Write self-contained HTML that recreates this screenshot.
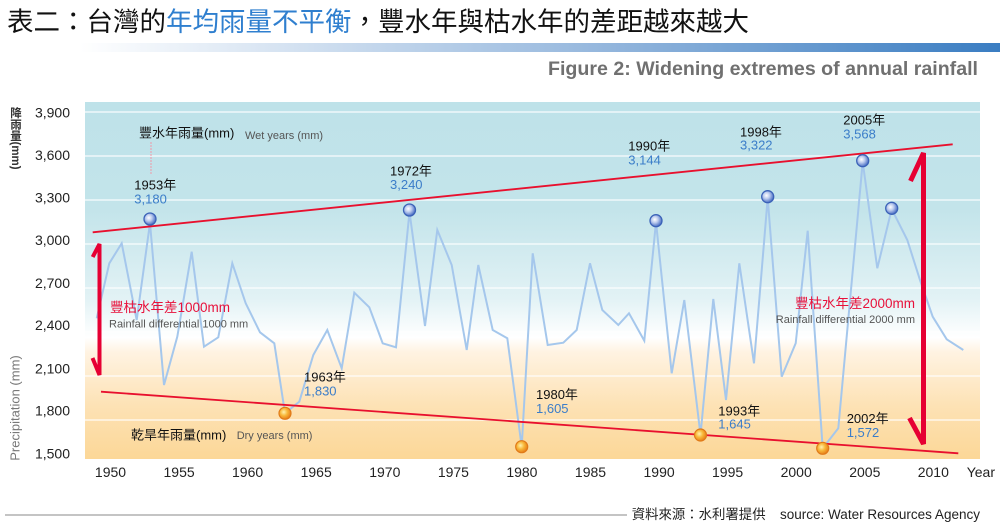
<!DOCTYPE html>
<html>
<head>
<meta charset="utf-8">
<style>
html,body{margin:0;padding:0;background:#fff;}
#wrap{position:relative;width:1000px;height:526px;overflow:hidden;background:#fff;}
svg{position:absolute;left:0;top:0;}
.vlab{position:absolute;left:9px;top:107px;writing-mode:vertical-rl;font-family:"Liberation Sans","Noto Sans CJK TC",sans-serif;font-size:11.5px;line-height:12px;color:#333;font-weight:bold;}
</style>
</head>
<body>
<div id="wrap">
<svg width="1000" height="526" viewBox="0 0 1000 526" xmlns="http://www.w3.org/2000/svg">
  <defs>
    <linearGradient id="bar" x1="0" y1="0" x2="1" y2="0">
      <stop offset="0" stop-color="#ffffff"/>
      <stop offset="0.08" stop-color="#ffffff"/>
      <stop offset="0.6" stop-color="#95b7dd"/>
      <stop offset="1" stop-color="#3a7dc2"/>
    </linearGradient>
    <linearGradient id="bg" x1="0" y1="0" x2="0" y2="1">
      <stop offset="0" stop-color="#bee2e9"/>
      <stop offset="0.30" stop-color="#c3e4ea"/>
      <stop offset="0.55" stop-color="#e2f2f5"/>
      <stop offset="0.66" stop-color="#ffffff"/>
      <stop offset="0.70" stop-color="#fff3e2"/>
      <stop offset="0.85" stop-color="#fde2b5"/>
      <stop offset="1" stop-color="#fcd797"/>
    </linearGradient>
    <radialGradient id="bball" cx="0.4" cy="0.4" r="0.6">
      <stop offset="0" stop-color="#ffffff"/>
      <stop offset="0.45" stop-color="#bccbee"/>
      <stop offset="1" stop-color="#4a6fc4"/>
    </radialGradient>
    <radialGradient id="oball" cx="0.4" cy="0.4" r="0.6">
      <stop offset="0" stop-color="#fff2b0"/>
      <stop offset="0.5" stop-color="#f8b83a"/>
      <stop offset="1" stop-color="#e8801a"/>
    </radialGradient>
  </defs>

  <!-- Title -->
  <text x="7" y="31" font-family="'Noto Sans CJK TC','Noto Sans CJK SC',sans-serif" font-size="26.5" font-weight="normal" fill="#111">表二：台灣的<tspan fill="#2f7fcf">年均雨量不平衡</tspan>，豐水年與枯水年的差距越來越大</text>

  <!-- gradient bar -->
  <rect x="0" y="43" width="1000" height="9" fill="url(#bar)"/>

  <!-- subtitle -->
  <text x="978" y="75" text-anchor="end" font-family="'Liberation Sans',sans-serif" font-weight="bold" font-size="19" fill="#707070" textLength="430" lengthAdjust="spacingAndGlyphs">Figure 2: Widening extremes of annual rainfall</text>

  <!-- plot background -->
  <rect x="85" y="102" width="895" height="357" fill="url(#bg)"/>
  <g stroke="#ffffff" stroke-opacity="0.75" stroke-width="1.5">
    <line x1="85" y1="112" x2="980" y2="112"/>
    <line x1="85" y1="156" x2="980" y2="156"/>
    <line x1="85" y1="200" x2="980" y2="200"/>
    <line x1="85" y1="244" x2="980" y2="244"/>
    <line x1="85" y1="288" x2="980" y2="288"/>
    <line x1="85" y1="332" x2="980" y2="332"/>
    <line x1="85" y1="376" x2="980" y2="376"/>
    <line x1="85" y1="420" x2="980" y2="420"/>
  </g>

  <!-- data line -->
  <polyline fill="none" stroke="#a5c7ec" stroke-width="2" stroke-linejoin="miter" points="96.7,318.3 109.3,263.3 121.7,243.3 136.7,320 150,223 164,385 177.3,336.7 191.7,251.7 204,346.7 218.3,337.3 232.3,263.3 245.7,303.3 260,332.3 274.3,343.3 285,413.3 299.3,401.7 313.3,355 327.3,330 341.7,368.3 354.3,292.7 369.3,307.3 382.7,343.3 396,347.3 409.5,212 425,326 437.3,230 451.7,265 466.7,350 478.3,265 492.7,330 507.3,338.3 521.7,446.7 532.7,253.3 547.7,345 563.3,342.7 576.7,330 590,263.3 602.3,310 618.3,325 629,313.3 644.3,340.7 656,222 671.7,373.3 684.3,300 700.5,435 713.3,299 726,400 739.3,263.3 754,363.3 767.7,198 781.7,376.7 795.7,343.3 807.7,230.7 822.7,448.3 838.3,428.3 862.7,162 877.3,268.3 891.7,209 907.3,240 920,280 932.7,316.7 946.7,339.3 963.3,350"/>

  <!-- trend lines -->
  <line x1="92.7" y1="232.3" x2="952.7" y2="144.3" stroke="#e8102e" stroke-width="1.8"/>
  <line x1="101" y1="391.7" x2="958.3" y2="453.3" stroke="#e8102e" stroke-width="1.8"/>

  <!-- arrows -->
  <path d="M92.7,257 L99.5,244 L99.5,375 L92.5,358" fill="none" stroke="#e60033" stroke-width="4" stroke-linejoin="miter"/>
  <path d="M910.5,181 L923.5,153 L923.5,444 L909.5,418" fill="none" stroke="#e60033" stroke-width="5" stroke-linejoin="miter"/>

  <!-- pink dotted -->
  <line x1="151" y1="142" x2="151" y2="175" stroke="#f09aa8" stroke-width="1" stroke-dasharray="2 1"/>

  <!-- markers -->
  <g stroke="#3b62b8" stroke-width="1.3" fill="url(#bball)">
    <circle cx="150" cy="219" r="6"/>
    <circle cx="409.5" cy="210" r="6"/>
    <circle cx="656" cy="220.7" r="6"/>
    <circle cx="767.7" cy="196.7" r="6"/>
    <circle cx="862.7" cy="160.7" r="6"/>
    <circle cx="891.7" cy="208.3" r="6"/>
  </g>
  <g stroke="#e07a18" stroke-width="1.2" fill="url(#oball)">
    <circle cx="285" cy="413.3" r="6"/>
    <circle cx="521.7" cy="446.7" r="6"/>
    <circle cx="700.5" cy="435" r="6"/>
    <circle cx="822.7" cy="448.3" r="6"/>
  </g>

  <!-- annotations -->
  <g font-family="'Liberation Sans','Noto Sans CJK TC',sans-serif" font-size="13">
    <text x="139" y="137.7" fill="#111">豐水年雨量(mm)</text>
    <text x="245" y="139" fill="#555" font-size="11">Wet years (mm)</text>
    <text x="131" y="439.7" fill="#111">乾旱年雨量(mm)</text>
    <text x="236.7" y="439" fill="#555" font-size="11">Dry years (mm)</text>

    <text x="134.3" y="189.7" fill="#111">1953年</text>
    <text x="134.3" y="203.7" fill="#3b7dc9">3,180</text>
    <text x="390" y="175.4" fill="#111">1972年</text>
    <text x="390" y="189" fill="#3b7dc9">3,240</text>
    <text x="628.3" y="150.7" fill="#111">1990年</text>
    <text x="628.3" y="164.7" fill="#3b7dc9">3,144</text>
    <text x="740" y="136.4" fill="#111">1998年</text>
    <text x="740" y="149.7" fill="#3b7dc9">3,322</text>
    <text x="843.3" y="124.7" fill="#111">2005年</text>
    <text x="843.3" y="138.7" fill="#3b7dc9">3,568</text>

    <text x="304" y="381.4" fill="#111">1963年</text>
    <text x="304" y="395.7" fill="#3b7dc9">1,830</text>
    <text x="536" y="399" fill="#111">1980年</text>
    <text x="536" y="413" fill="#3b7dc9">1,605</text>
    <text x="718.3" y="415.4" fill="#111">1993年</text>
    <text x="718.3" y="428.7" fill="#3b7dc9">1,645</text>
    <text x="846.7" y="423" fill="#111">2002年</text>
    <text x="846.7" y="437" fill="#3b7dc9">1,572</text>

    <text x="110" y="312" fill="#e8103a" font-size="13.5">豐枯水年差1000mm</text>
    <text x="109" y="327.3" fill="#555" font-size="11">Rainfall differential 1000 mm</text>
    <text x="915" y="308" fill="#e8103a" font-size="13.5" text-anchor="end">豐枯水年差2000mm</text>
    <text x="915" y="323" fill="#555" font-size="11" text-anchor="end">Rainfall differential 2000 mm</text>
  </g>

  <!-- y axis labels -->
  <g font-family="'Liberation Sans',sans-serif" font-size="14" fill="#222" text-anchor="end">
    <text x="70" y="117.3">3,900</text>
    <text x="70" y="160">3,600</text>
    <text x="70" y="202.7">3,300</text>
    <text x="70" y="245">3,000</text>
    <text x="70" y="288">2,700</text>
    <text x="70" y="330">2,400</text>
    <text x="70" y="373.3">2,100</text>
    <text x="70" y="415.7">1,800</text>
    <text x="70" y="458.3">1,500</text>
  </g>

  <!-- x axis labels -->
  <g font-family="'Liberation Sans',sans-serif" font-size="14" fill="#222" text-anchor="middle">
    <text x="110.5" y="477">1950</text>
    <text x="179.1" y="477">1955</text>
    <text x="247.6" y="477">1960</text>
    <text x="316.2" y="477">1965</text>
    <text x="384.8" y="477">1970</text>
    <text x="453.4" y="477">1975</text>
    <text x="521.9" y="477">1980</text>
    <text x="590.5" y="477">1985</text>
    <text x="659.1" y="477">1990</text>
    <text x="727.6" y="477">1995</text>
    <text x="796.2" y="477">2000</text>
    <text x="864.8" y="477">2005</text>
    <text x="933.3" y="477">2010</text>
    <text x="966.7" y="477" text-anchor="start">Year</text>
  </g>

  <!-- rotated y title -->
  <text transform="translate(19.5,408) rotate(-90)" text-anchor="middle" font-family="'Liberation Sans',sans-serif" font-size="13" fill="#777">Precipitation (mm)</text>

  <!-- source -->
  <line x1="5" y1="515" x2="627" y2="515" stroke="#888" stroke-width="1"/>
  <g font-family="'Liberation Sans','Noto Sans CJK TC',sans-serif" font-size="13.4" fill="#222">
    <text x="631.7" y="519">資料來源：水利署提供</text>
    <text x="780" y="519" textLength="200" lengthAdjust="spacingAndGlyphs">source: Water Resources Agency</text>
  </g>
</svg>
<div class="vlab">降雨量(mm)</div>
</div>
</body>
</html>
